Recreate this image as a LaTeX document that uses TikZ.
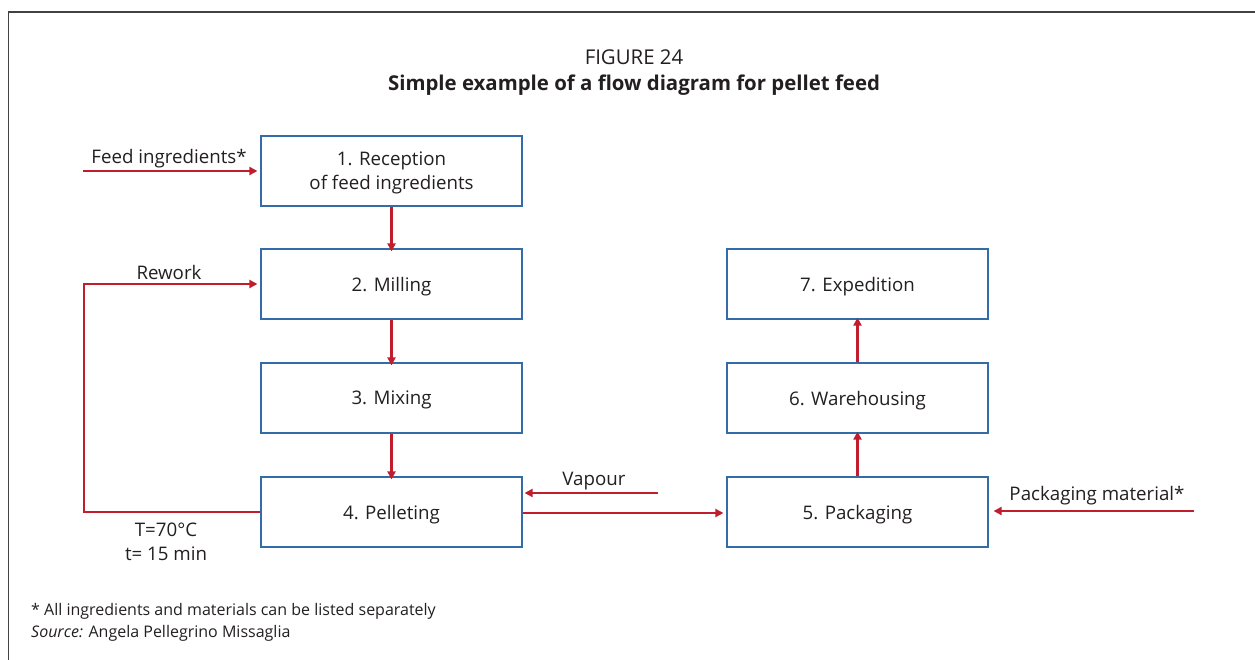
\documentclass[tikz,border=0pt]{standalone}
\usepackage{fontspec}
\setmainfont{Open Sans}
\usetikzlibrary{arrows.meta}
\definecolor{boxblue}{RGB}{52,108,168}
\definecolor{flowred}{RGB}{192,30,45}
\definecolor{ink}{RGB}{35,31,32}
\begin{document}
\begin{tikzpicture}[x=1pt,y=-1pt,
  every node/.style={text=ink,font=\fontsize{18.7}{24}\selectfont},
  stepbox/.style={draw=boxblue,line width=1.2pt,minimum width=261pt,minimum height=70pt,inner sep=0pt,align=center,text depth=0pt},
  flow/.style={draw=flowred,line width=2.2pt,-{Triangle[length=8pt,width=8pt]}},
  lbl/.style={inner sep=0pt,align=center},
  note/.style={lbl,anchor=west,font=\fontsize{16}{20}\selectfont}]
\useasboundingbox (0,0) rectangle (1255,660);
% frame
\draw[line width=1.2pt,draw=ink!85] (8.5,660) -- (8.5,12) -- (1255,12);
% title
\node[lbl,font=\fontsize{20.4}{24}\selectfont] (fig) at (634,57) {FIGURE 24};
\node[lbl,font=\fontsize{20.4}{24}\selectfont\bfseries] (title) at (634,85) {Simple example of a flow diagram for pellet feed};
% process steps
\node[stepbox] (s1) at (391.5,171) {1. Reception\\of feed ingredients};
\node[stepbox] (s2) at (391.5,284) {2. Milling};
\node[stepbox] (s3) at (391.5,398) {3. Mixing};
\node[stepbox] (s4) at (391.5,512) {4. Pelleting};
\node[stepbox] (s5) at (857.5,512) {5. Packaging};
\node[stepbox] (s6) at (857.5,398) {6. Warehousing};
\node[stepbox] (s7) at (857.5,284) {7. Expedition};
% inputs
\coordinate (fin) at (83,171);
\node[lbl] (finl) at (169,158.5) {Feed ingredients*};
\coordinate (vap) at (658,493);
\node[lbl] (vapl) at (594,481.5) {Vapour};
\coordinate (pack) at (1194,511);
\node[lbl] (packl) at (1097,495.5) {Packaging material*};
\node[lbl] (rework) at (169,272.5) {Rework};
\node[lbl] (cond) at (166,541.5) {T=70°C\\t= 15 min};
% connectors
\draw[flow] (fin) -- ([xshift=-3pt]s1.west);
\draw[flow] (s1.south) -- ([yshift=-3pt]s2.north);
\draw[flow] (s2.south) -- ([yshift=-3pt]s3.north);
\draw[flow] (s3.south) -- ([yshift=-3pt]s4.north);
\draw[flow,-] (s4.west) -| (84,284);
\draw[flow,shorten <=-1.1pt] (84,284) -- ([xshift=-3pt]s2.west);
\draw[flow] (vap) -- ([xshift=2pt]s4.east |- vap);
\draw[flow] ([yshift=-1pt]s4.east) -- ([xshift=-3pt,yshift=-1pt]s5.west);
\draw[flow] (pack) -- ([xshift=5pt]s5.east |- pack);
\draw[flow] (s5.north) -- ([yshift=2pt]s6.south);
\draw[flow] (s6.north) -- ([yshift=2pt]s7.south);
% notes
\node[note] (note) at (31,611) {* All ingredients and materials can be listed separately};
\node[note] (src) at (31,633) {\textit{Source:} Angela Pellegrino Missaglia};
\end{tikzpicture}
\end{document}
